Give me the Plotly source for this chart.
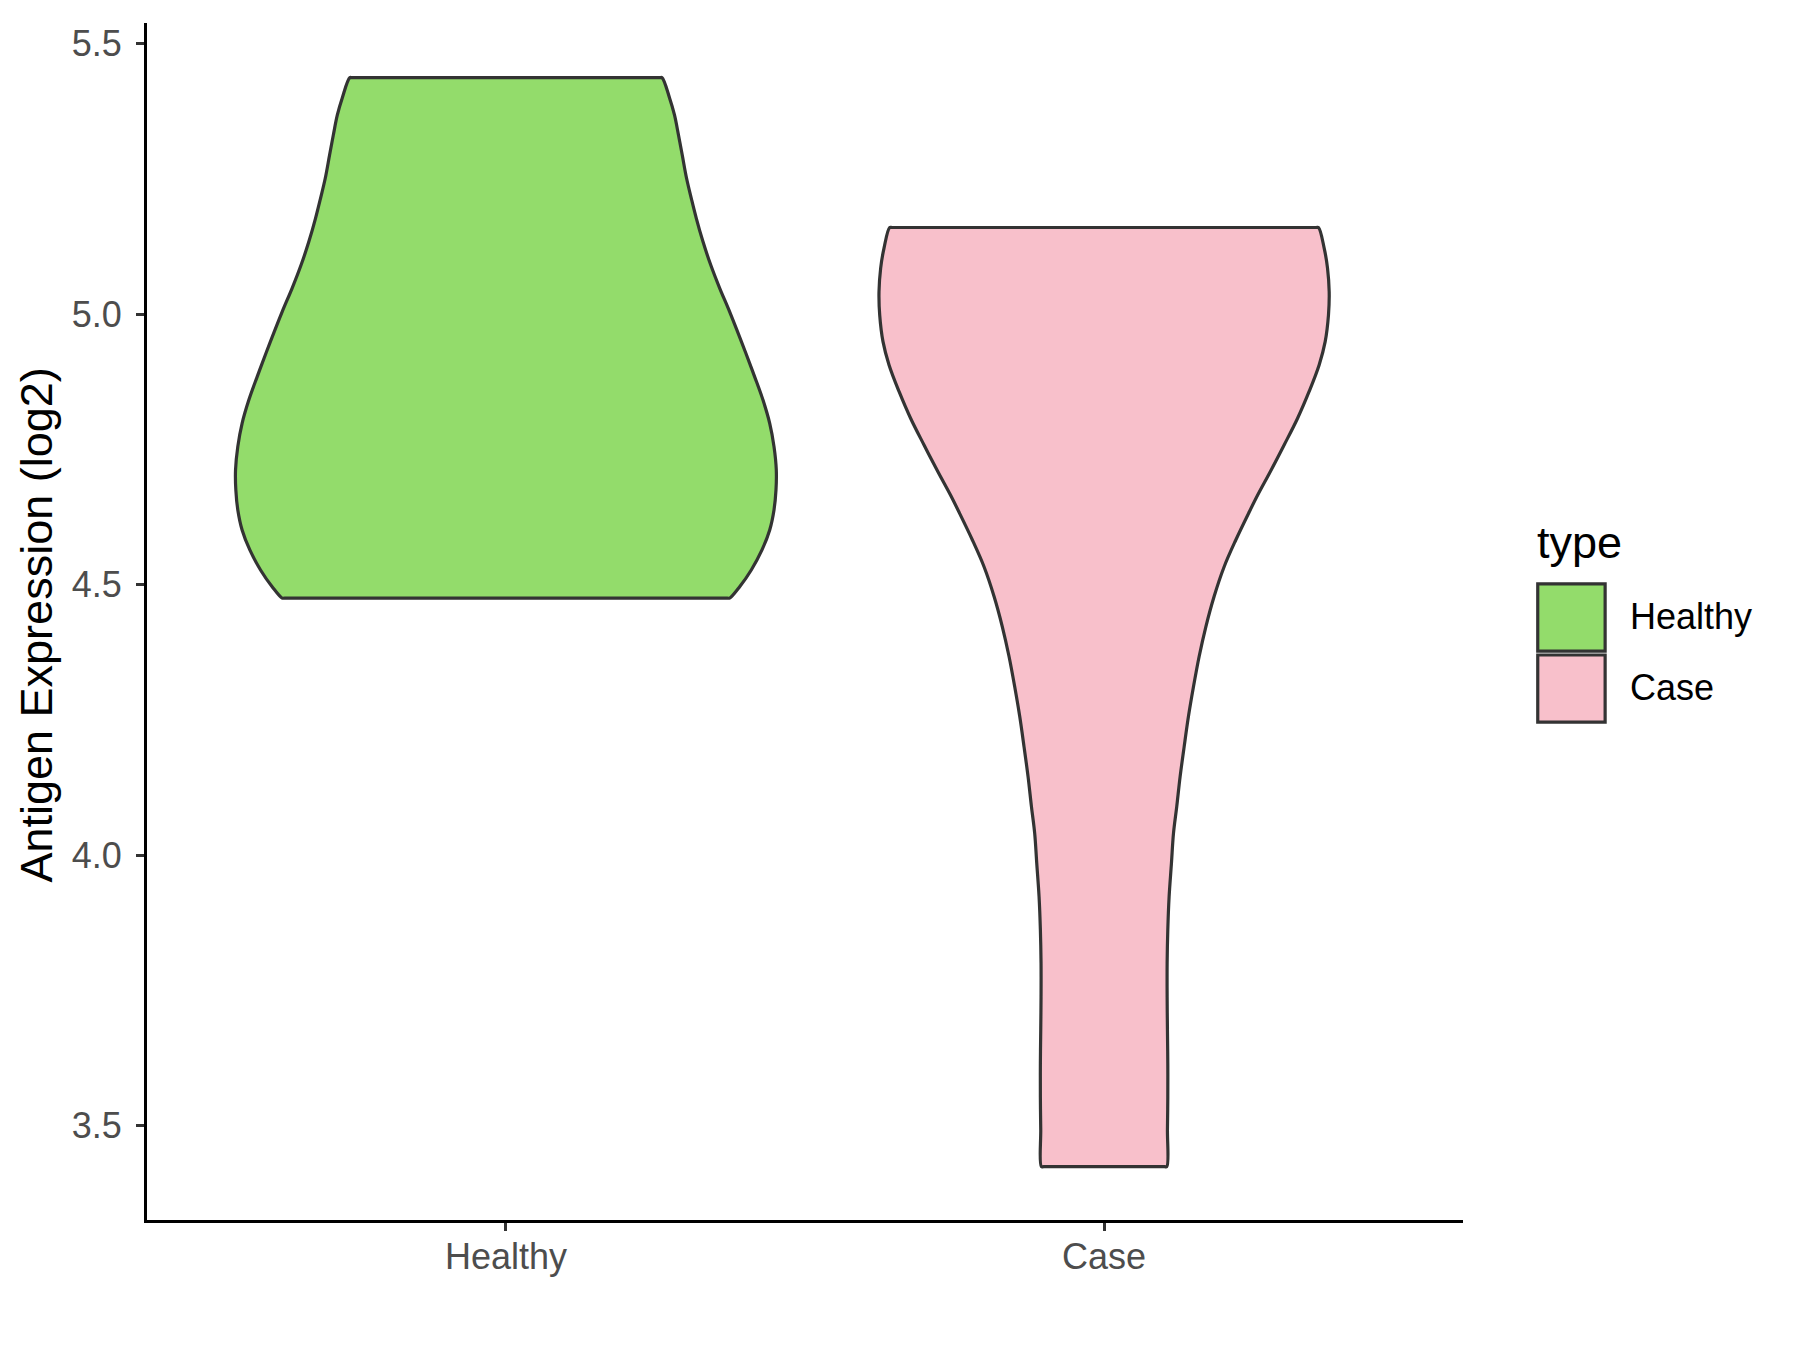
import plotly.graph_objects as go

# ---- data ----
categories = ["Healthy", "Case"]
fill_colors = ["#93DC6B", "#F8C0CB"]

# violin outline: y levels (bottom -> top) and half-widths (in category units)
healthy_y = [4.475, 4.496, 4.527, 4.564, 4.601, 4.638, 4.675, 4.712, 4.755, 4.798,
             4.841, 4.884, 4.928, 5.004, 5.048, 5.091, 5.134, 5.177, 5.214,
             5.251, 5.294, 5.331, 5.368, 5.399, 5.437]
healthy_hw = [0.3741, 0.3908, 0.4102, 0.4281, 0.4410, 0.4482, 0.4515, 0.4520, 0.4482, 0.4410,
              0.4298, 0.4159, 0.4010, 0.3741, 0.3573, 0.3423, 0.3294, 0.3183, 0.3099,
              0.3020, 0.2948, 0.2885, 0.2818, 0.2737, 0.2609]

case_y = [3.424, 3.492, 3.553, 3.615, 3.677, 3.738, 3.800, 3.862, 3.923, 3.985,
          4.040, 4.090, 4.145, 4.200, 4.256, 4.311, 4.367, 4.422, 4.478, 4.533,
          4.582, 4.635, 4.666, 4.709, 4.758, 4.807, 4.857, 4.906, 4.949, 4.998,
          5.041, 5.085, 5.122, 5.160]
case_hw = [0.1048, 0.1059, 0.1065, 0.1065, 0.1059, 0.1054, 0.1054, 0.1065, 0.1087, 0.1126,
           0.1160, 0.1215, 0.1271, 0.1338, 0.1410, 0.1494, 0.1589, 0.1701, 0.1839, 0.2007,
           0.2200, 0.2430, 0.2570, 0.2780, 0.3010, 0.3233, 0.3428, 0.3595, 0.3696, 0.3751,
           0.3763, 0.3735, 0.3679, 0.3584]

y_ticks = [3.5, 4.0, 4.5, 5.0, 5.5]

profiles = [(healthy_y, healthy_hw), (case_y, case_hw)]

FONT = "Liberation Sans, Arial, Helvetica, sans-serif"
OUTLINE = "#333333"
LW = 3.2

fig = go.Figure()
eps = 0.004
for i, (name, (ys, hws)) in enumerate(zip(categories, profiles)):
    cx = i
    xs, yy = [], []
    # right side bottom -> top
    for y, w in zip(ys, hws):
        xs.append(cx + w); yy.append(y)
    # top edge
    xs += [cx + hws[-1] - eps, cx - hws[-1] + eps]
    yy += [ys[-1], ys[-1]]
    # left side top -> bottom
    for y, w in zip(ys[::-1], hws[::-1]):
        xs.append(cx - w); yy.append(y)
    # bottom edge
    xs += [cx - hws[0] + eps, cx + hws[0] - eps, cx + hws[0]]
    yy += [ys[0], ys[0], ys[0]]
    fig.add_trace(go.Scatter(
        x=xs, y=yy, mode="lines", fill="toself", fillcolor=fill_colors[i],
        line=dict(color=OUTLINE, width=LW, shape="spline", smoothing=1.0),
        name=name, showlegend=False, hoverinfo="skip"))

# manual legend (ggplot-like large keys)
shapes = []
annotations = []
key_x0, key_x1 = 1.0568, 1.1080
key_rows = [(0.4752, 0.5315), (0.4160, 0.4720)]
label_y = [0.5038, 0.4445]
for i, name in enumerate(categories):
    y0, y1 = key_rows[i]
    shapes.append(dict(type="rect", xref="paper", yref="paper",
                       x0=key_x0, x1=key_x1, y0=y0, y1=y1,
                       fillcolor=fill_colors[i], line=dict(color=OUTLINE, width=LW)))
    annotations.append(dict(xref="paper", yref="paper", x=1.1255, y=label_y[i],
                            text=name, showarrow=False, xanchor="left", yanchor="middle",
                            font=dict(family=FONT, size=36, color="black")))
annotations.append(dict(xref="paper", yref="paper", x=1.0545, y=0.566,
                        text="type", showarrow=False, xanchor="left", yanchor="middle",
                        font=dict(family=FONT, size=45, color="black")))
annotations.append(dict(xref="paper", yref="paper", x=-0.084, y=0.497,
                        text="Antigen Expression (log2)", showarrow=False, textangle=-90,
                        xanchor="center", yanchor="middle",
                        font=dict(family=FONT, size=45, color="black")))

fig.update_layout(
    width=1800, height=1350,
    margin=dict(l=139, r=345, t=15, b=138),
    paper_bgcolor="white", plot_bgcolor="white",
    shapes=shapes, annotations=annotations,
    showlegend=False,
    font=dict(family=FONT),
)
fig.update_xaxes(
    range=[-0.6, 1.6], tickmode="array", tickvals=list(range(len(categories))),
    ticktext=categories, showgrid=False, zeroline=False,
    showline=True, linecolor="black", linewidth=LW,
    ticks="outside", ticklen=8, tickwidth=2.7, tickcolor=OUTLINE,
    ticklabelstandoff=-5,
    tickfont=dict(family=FONT, size=36, color="#4D4D4D"),
)
fig.update_yaxes(
    range=[3.3255, 5.538], tickmode="array", tickvals=y_ticks,
    ticktext=[f"{v:.1f}" for v in y_ticks], showgrid=False, zeroline=False,
    showline=True, linecolor="black", linewidth=LW,
    ticks="outside", ticklen=8, tickwidth=2.7, tickcolor=OUTLINE,
    ticklabelstandoff=7,
    tickfont=dict(family=FONT, size=36, color="#4D4D4D"),
)

fig.write_html("out.html")
